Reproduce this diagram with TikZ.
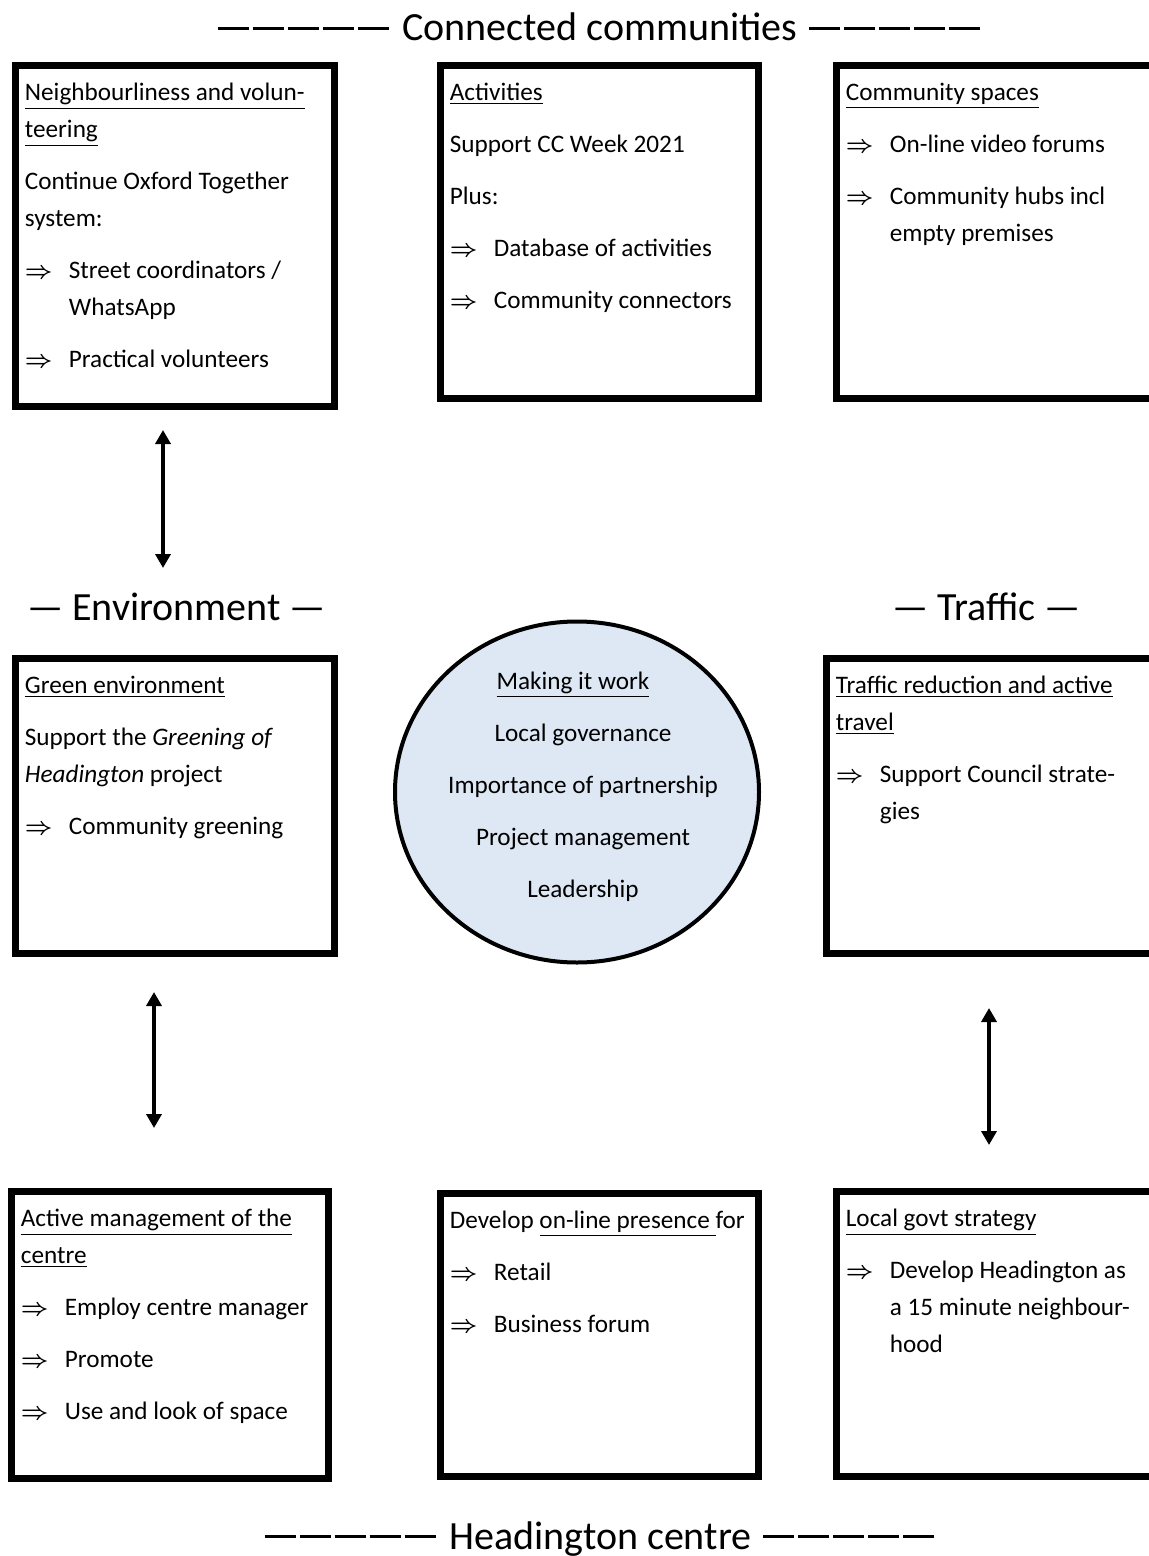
\documentclass[tikz,border=0pt]{standalone}
\usepackage{fontspec}
\setmainfont{Carlito}
\usetikzlibrary{arrows.meta,shapes.geometric}
\definecolor{hubblue}{HTML}{DEE8F4}
\newcommand{\bodysize}{\fontsize{12.6pt}{18.5pt}\selectfont}
\newcommand{\headsize}{\fontsize{20pt}{24pt}\selectfont}
\newcommand{\hd}[1]{\strut\underline{#1}}
\newcommand{\itm}[1]{\par\hangindent=22pt\hangafter=1\makebox[22pt][l]{\strut\boldmath$\Rightarrow$}#1}
\newcommand{\dsh}{\rule[5.3pt]{15.5pt}{1.5pt}\hspace{2pt}}
\newcommand{\dashrow}{\dsh\dsh\dsh\dsh\dsh}

\begin{document}
\begin{tikzpicture}[x=0.5pt, y=-0.5pt,
	panel/.style={draw, line width=3.5pt, inner sep=0pt},
	paneltxt/.style={anchor=north west, inner sep=0pt, text width=170pt, align=left, font=\bodysize, execute at begin node={\setlength{\parskip}{7.5pt}\spaceskip=0pt\xspaceskip=0pt}},
	hubtxt/.style={inner sep=0pt, text width=150pt, align=center, font=\bodysize, execute at begin node={\setlength{\parskip}{7.5pt}\spaceskip=0pt\xspaceskip=0pt\leftskip=0pt plus 1fil\rightskip=0pt plus 1fil}},
	head/.style={anchor=base, inner sep=0pt, font=\headsize},
	dbl/.style={{Triangle[width=7.5pt,length=7pt]}-{Triangle[width=7.5pt,length=7pt]}, line width=2.2pt}]
	\useasboundingbox (0,0) rectangle (1149,1556);
	\clip (0,0) rectangle (1149,1556);

	\node[head] (cc) at (599,41) {\dashrow\hspace{5pt}Connected communities\hspace{6pt}\dashrow};
	\node[head] (env) at (176.5,620) {— Environment —};
	\node[head] (trf-head) at (986.5,620) {— Traffic —};
	\node[head] (hc) at (599.5,1549) {\dashrow\hspace{5pt}Headington centre\hspace{6pt}\dashrow};

	\node[panel, minimum width=159.5pt, minimum height=170.5pt] (nb) at (175,236) {};
	\node[panel, minimum width=159pt, minimum height=166.5pt] (act) at (599.5,232) {};
	\node[panel, minimum width=162.5pt, minimum height=166.5pt] (spc) at (999,232) {};
	\node[panel, minimum width=159.5pt, minimum height=147.5pt] (grn) at (175,806) {};
	\node[panel, minimum width=167.5pt, minimum height=147.5pt] (trf) at (994,806) {};
	\node[panel, minimum width=158.5pt, minimum height=143.5pt] (mgt) at (170,1335) {};
	\node[panel, minimum width=159pt, minimum height=141.5pt] (onl) at (599.5,1335) {};
	\node[panel, minimum width=162.5pt, minimum height=142.5pt] (gov) at (999,1334) {};
	\node[ellipse, draw, line width=2pt, fill=hubblue, minimum width=182pt, minimum height=170.5pt, inner sep=0pt] (hub) at (577,792) {};

	\node[paneltxt] (nb-txt) at ([shift={(12.5,12.5)}]nb.north west) {\hd{Neighbourliness and volun-}\newline\underline{teering}\par
		Continue Oxford Together\newline system:
		\itm{Street coordinators /\newline WhatsApp}
		\itm{Practical volunteers}\par};
	\node[paneltxt] (act-txt) at ([shift={(12.5,12.5)}]act.north west) {\hd{Activities}\par
		Support CC Week 2021\par
		Plus:
		\itm{Database of activities}
		\itm{Community connectors}\par};
	\node[paneltxt] (spc-txt) at ([shift={(12.5,12.5)}]spc.north west) {\hd{Community spaces}
		\itm{On-line video forums}
		\itm{Community hubs incl\newline empty premises}\par};
	\node[paneltxt] (grn-txt) at ([shift={(12.5,12.5)}]grn.north west) {\hd{Green environment}\par
		Support the \textit{Greening of}\newline\textit{Headington} project
		\itm{Community greening}\par};
	\node[paneltxt] (trf-txt) at ([shift={(12.5,12.5)}]trf.north west) {\hd{Traffic reduction and active}\newline\underline{travel}
		\itm{Support Council strate-\newline gies}\par};
	\node[paneltxt] (mgt-txt) at ([shift={(12.5,12.5)}]mgt.north west) {\hd{Active management of the}\newline\underline{centre}
		\itm{Employ centre manager}
		\itm{Promote}
		\itm{Use and look of space}\par};
	\node[paneltxt] (onl-txt) at ([shift={(12.5,12.5)}]onl.north west) {\strut Develop \underline{on-line presence\ }for
		\itm{Retail}
		\itm{Business forum}\par};
	\node[paneltxt] (gov-txt) at ([shift={(12.5,12.5)}]gov.north west) {\hd{Local govt strategy}
		\itm{Develop Headington as\newline a 15 minute neighbour-\newline hood}\par};
	\node[hubtxt] (hub-txt) at (583,786) {\hd{Making it work}\kern10pt\par
		Local governance\par
		Importance of partnership\par
		Project management\par
		Leadership\strut};

	\coordinate (a1t) at (163,430);
	\coordinate (a1b) at (163,568);
	\coordinate (a2t) at (154,992);
	\coordinate (a2b) at (154,1128);
	\coordinate (a3t) at (989,1008);
	\coordinate (a3b) at (989,1145);
	\draw[dbl] (a1t) -- (a1b);
	\draw[dbl] (a2t) -- (a2b);
	\draw[dbl] (a3t) -- (a3b);
\end{tikzpicture}
\end{document}
